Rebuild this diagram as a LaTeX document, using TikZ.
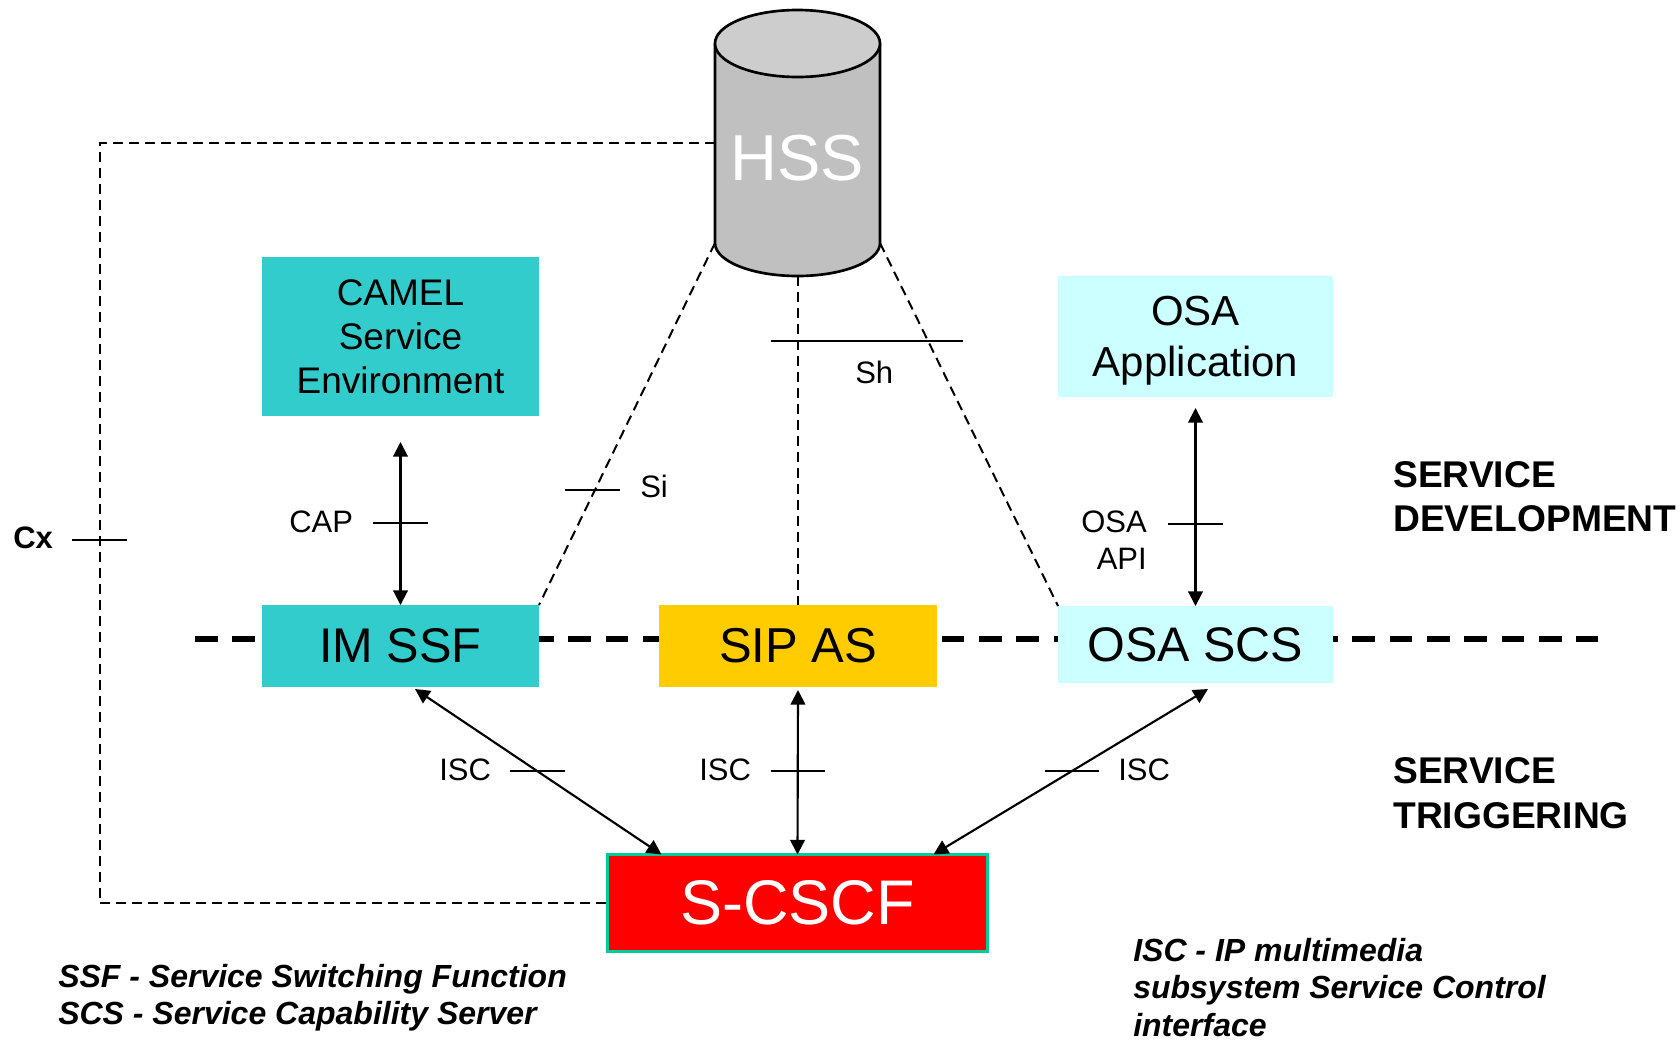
\documentclass[tikz,border=0pt]{standalone}
\usepackage{fontspec}
\setmainfont{Liberation Sans}
\usetikzlibrary{arrows.meta,calc}
\definecolor{teal1}{HTML}{33CCCC}
\definecolor{yel1}{HTML}{FFCC00}
\definecolor{cyan1}{HTML}{CCFFFF}
\definecolor{red1}{HTML}{FF0000}
\definecolor{grn1}{HTML}{00CC99}
\definecolor{gbody}{HTML}{C0C0C0}
\definecolor{gtop}{HTML}{CDCDCD}
\begin{document}
\begin{tikzpicture}[x=0.75pt,y=-0.75pt,
  box/.style={inner sep=0pt,outer sep=0pt,align=center},
  thindash/.style={line width=1.5pt,dash pattern=on 7.5pt off 4.5pt},
  thickdash/.style={line width=4pt,dash pattern=on 17pt off 11pt},
  biarrow/.style={line width=1.6pt,{Triangle[length=11pt,width=11pt]}-{Triangle[length=11pt,width=11pt]}},
  tickmark/.style={line width=1.5pt},
  lbl/.style={inner sep=0pt,font=\fontsize{23.25}{27.75}\selectfont},
  bigbold/.style={inner sep=0pt,font=\fontsize{27.9}{33}\selectfont\bfseries},
  foot/.style={inner sep=0pt,font=\fontsize{24}{28}\selectfont\bfseries\itshape}]
\useasboundingbox (0,0) rectangle (1680,1040);

% thick separator
\coordinate (sepL) at (195,639);
\coordinate (sepR) at (1598,639);
\draw[thickdash] (sepL) -- (sepR);

% boxes
\node[box,fill=teal1,minimum width=207.75pt,minimum height=119.25pt,
  font=\fontsize{27.75}{33}\selectfont] (camel) at (400.5,336.5) {CAMEL\\Service\\Environment};
\node[box,fill=teal1,minimum width=207.75pt,minimum height=61.5pt,
  font=\fontsize{36.5}{40}\selectfont] (imssf) at (400.5,646) {IM SSF};
\node[box,fill=yel1,minimum width=208.5pt,minimum height=61.5pt,
  font=\fontsize{36.75}{40}\selectfont] (sipas) at (798,646) {SIP AS};
\node[box,fill=cyan1,minimum width=206.25pt,minimum height=57.75pt,
  font=\fontsize{36.4}{40}\selectfont] (osascs) at (1195.5,644.5) {OSA SCS};
\node[box,fill=cyan1,minimum width=206.25pt,minimum height=90.75pt,text depth=0pt,
  font=\fontsize{31.5}{38}\selectfont] (osaapp) at (1195.5,336.5) {OSA\\Application};
\node[box,fill=red1,draw=grn1,line width=2.25pt,minimum width=285pt,minimum height=72.75pt,
  text=white,font=\fontsize{47.3}{50}\selectfont] (scscf) at (797.5,903) {S-CSCF};

% HSS cylinder
\fill[gbody] (715,43.5) -- (715,243)
  .. controls (715,261.2) and (751.9,276) .. (797.5,276)
  .. controls (843.1,276) and (880,261.2) .. (880,243) -- (880,43.5) -- cycle;
\draw[line width=2pt] (715,43.5) -- (715,243)
  .. controls (715,261.2) and (751.9,276) .. (797.5,276)
  .. controls (843.1,276) and (880,261.2) .. (880,243) -- (880,43.5);
\draw[line width=2pt,fill=gtop] (797.5,43.5) ellipse [x radius=82.5, y radius=33.5];
\node[inner sep=0pt,text=white,font=\fontsize{48.75}{52}\selectfont] (hss) at (797.5,158.5) {HSS};
\coordinate (hssW) at (715,143);
\coordinate (hssBL) at (715,243);
\coordinate (hssBR) at (880,243);
\coordinate (hssB) at (798,276);

% Cx
\coordinate (cxtop) at (99.5,143);
\coordinate (cxbot) at (99.5,903);
\draw[thindash] (hssW) -- (cxtop) -- (cxbot) -- (scscf.west);
\draw[tickmark] (72,540) -- (127,540);
\node[inner sep=0pt,anchor=base west,font=\fontsize{23.25}{27}\selectfont\bfseries] (cx) at (13,548) {Cx};

% Si, Sh, right
\draw[thindash] (hssBL) -- (imssf.north east);
\draw[thindash] (hssB) -- (sipas.north);
\draw[thindash] (hssBR) -- (osascs.north west);
\draw[tickmark] (565,490) -- (620,490);
\node[lbl,anchor=base west] (si) at (640,497) {Si};
\draw[tickmark] (771,341) -- (963,341);
\node[lbl,anchor=base west] (sh) at (855,383) {Sh};

% CAP
\draw[biarrow] ($(camel.south)+(0,26)$) -- (imssf.north);
\draw[tickmark] (373,523) -- (428,523);
\node[lbl,anchor=base west] (cap) at (289,532) {CAP};

% OSA API
\draw[biarrow] ($(osaapp.south)+(0,11)$) -- (osascs.north);
\draw[tickmark] (1168,524) -- (1223,524);
\node[lbl,anchor=base east] (osa1) at (1147,532) {OSA};
\node[lbl,anchor=base east] (osa2) at (1147,569) {API};

% ISC
\draw[biarrow] ($(imssf.south)+(14.5,2)$) -- ($(scscf.north west)+(54,0)$);
\draw[biarrow] ($(sipas.south)+(0,3)$) -- (scscf.north);
\draw[biarrow] ($(osascs.south)+(12.5,6)$) -- ($(scscf.north east)+(-54,0)$);
\draw[tickmark] (510,771) -- (565,771);
\draw[tickmark] (771,771) -- (825,771);
\draw[tickmark] (1045,771) -- (1099,771);
\node[lbl,anchor=base west] (isc1) at (439,780) {ISC};
\node[lbl,anchor=base west] (isc2) at (699,780) {ISC};
\node[lbl,anchor=base west] (isc3) at (1118,780) {ISC};

% side labels
\node[bigbold,anchor=base west] (sd1) at (1393,487) {SERVICE};
\node[bigbold,anchor=base west] (sd2) at (1393,531) {DEVELOPMENT};
\node[bigbold,anchor=base west] (st1) at (1393,783) {SERVICE};
\node[bigbold,anchor=base west] (st2) at (1393,828) {TRIGGERING};

% footnotes
\node[foot,anchor=base west] (f1) at (58,987) {SSF - Service Switching Function};
\node[foot,anchor=base west] (f2) at (58,1024) {SCS - Service Capability Server};
\node[foot,anchor=base west] (f3) at (1133,961) {ISC - IP multimedia};
\node[foot,anchor=base west] (f4) at (1133,998.5) {subsystem Service Control};
\node[foot,anchor=base west] (f5) at (1133,1036) {interface};
\end{tikzpicture}
\end{document}
